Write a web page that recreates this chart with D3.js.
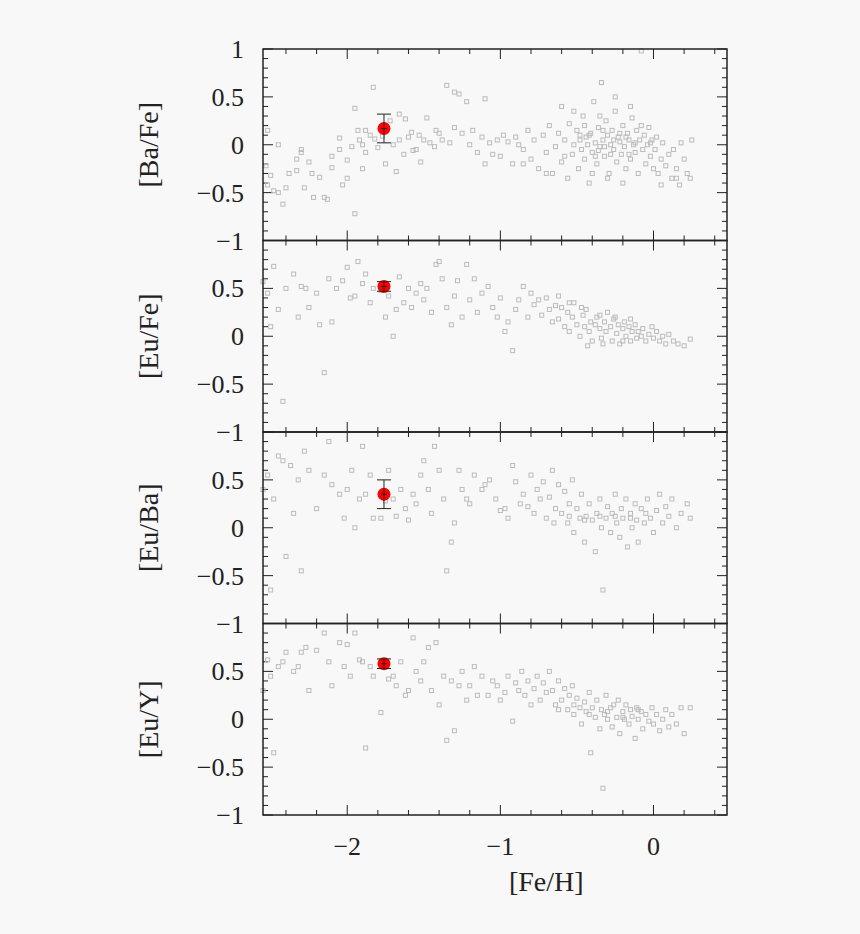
<!DOCTYPE html>
<html><head><meta charset="utf-8">
<script src="https://cdn.jsdelivr.net/npm/d3@7"></script>
<style>body{margin:0;background:#f8f8f8;} text{font-family:"Liberation Serif","DejaVu Serif",serif;fill:#222;}</style>
</head><body>
<svg id="c" width="860" height="934"></svg>
<script>
// panel labels and the highlighted star for each
var panelNames = ["[Ba/Fe]", "[Eu/Fe]", "[Eu/Ba]", "[Eu/Y]"];
var starFeH = -1.76;
var starVal = [0.17, 0.52, 0.35, 0.58];
var starErr = [0.15, 0.05, 0.15, 0.05];
var yTicks = [-1, -0.5, 0, 0.5, 1];
var xTicks = [-2, -1, 0];

var baFe = [[-2.52,0.15],[-2.53,-0.22],[-2.52,-0.42],[-2.5,-0.32],[-2.48,-0.48],[-2.45,-0.5],[-2.42,-0.62],[-2.4,-0.45],[-2.38,-0.3],[-2.33,-0.15],[-2.33,-0.27],[-2.3,-0.05],[-2.3,-0.08],[-2.28,-0.45],[-2.25,-0.18],[-2.23,-0.3],[-2.22,-0.55],[-2.18,-0.34],[-2.15,-0.55],[-2.13,-0.57],[-2.1,-0.12],[-2.1,-0.24],[-2.05,0.07],[-2.05,-0.05],[-2.03,-0.42],[-2.0,-0.16],[-2.0,-0.35],[-1.97,-0.02],[-1.95,0.38],[-1.93,0.15],[-1.92,0.05],[-1.9,0.0],[-1.9,-0.25],[-1.88,0.15],[-1.88,-0.08],[-1.85,0.1],[-1.83,0.6],[-1.82,0.06],[-1.8,-0.03],[-1.77,0.09],[-1.75,-0.2],[-1.72,0.25],[-1.7,0.0],[-1.68,-0.28],[-1.66,0.32],[-1.66,0.05],[-1.63,-0.1],[-1.62,0.27],[-1.6,0.08],[-1.58,0.13],[-1.57,-0.06],[-1.55,-0.05],[-1.53,0.1],[-1.52,-0.18],[-1.5,0.05],[-1.48,0.28],[-1.46,0.02],[-1.43,-0.02],[-1.42,0.15],[-1.4,0.12],[-1.38,0.05],[-1.35,0.62],[-1.33,0.02],[-1.3,0.55],[-1.3,0.18],[-1.27,0.53],[-1.25,0.12],[-1.22,0.45],[-1.2,0.0],[-1.18,0.15],[-1.15,-0.08],[-1.12,0.08],[-1.1,0.48],[-1.07,0.02],[-1.05,-0.1],[-1.02,0.05],[-1.0,-0.12],[-0.98,0.1],[-0.95,0.03],[-0.92,-0.2],[-0.9,0.08],[-0.88,0.0],[-0.85,-0.05],[-0.82,0.15],[-0.8,-0.15],[-0.78,0.05],[-0.75,-0.25],[-0.72,0.1],[-0.7,-0.08],[-0.68,0.2],[-0.66,-0.3],[-0.64,-0.02],[-0.62,0.12],[-0.6,-0.18],[-0.58,0.05],[-0.56,-0.35],[-0.55,0.22],[-0.53,-0.1],[-0.52,0.0],[-0.5,0.15],[-0.49,-0.25],[-0.48,0.05],[-0.47,-0.05],[-0.46,0.3],[-0.45,-0.15],[-0.44,0.08],[-0.43,0.0],[-0.42,-0.4],[-0.41,0.12],[-0.4,-0.08],[-0.39,0.45],[-0.38,0.02],[-0.37,-0.2],[-0.36,0.18],[-0.35,-0.02],[-0.34,0.65],[-0.33,0.05],[-0.32,-0.12],[-0.31,0.25],[-0.3,0.1],[-0.29,-0.3],[-0.28,0.0],[-0.27,0.15],[-0.26,-0.05],[-0.25,0.35],[-0.24,-0.18],[-0.23,0.08],[-0.22,0.03],[-0.21,-0.1],[-0.2,0.2],[-0.19,-0.02],[-0.18,-0.25],[-0.17,0.12],[-0.16,0.05],[-0.15,-0.15],[-0.14,0.28],[-0.13,0.0],[-0.12,-0.08],[-0.11,0.15],[-0.1,-0.3],[-0.09,0.05],[-0.08,0.98],[-0.07,-0.05],[-0.06,0.1],[-0.05,-0.2],[-0.04,0.0],[-0.03,0.18],[-0.02,-0.12],[-0.01,0.05],[0.0,-0.25],[0.01,-0.05],[0.02,0.08],[0.03,-0.3],[0.05,-0.15],[0.06,0.02],[0.08,-0.22],[0.1,-0.1],[0.12,-0.35],[0.13,-0.05],[0.15,-0.25],[0.17,-0.42],[0.18,0.02],[0.2,-0.15],[0.22,-0.3],[0.24,-0.35],[0.25,0.05],[-0.6,0.4],[-0.52,0.35],[-0.35,0.3],[-0.25,0.5],[-0.15,0.4],[-0.4,-0.3],[-0.3,-0.35],[-0.2,-0.4],[0.05,-0.42],[0.15,-0.35],[-0.7,-0.3],[-0.85,-0.2],[-1.1,-0.2],[-0.45,0.2],[-0.33,0.15],[-0.28,-0.1],[-0.18,0.08],[-0.08,0.2],[-0.58,-0.12],[-0.48,0.1],[-0.38,-0.12],[-1.95,-0.72],[-2.45,0.0],[-0.42,0.1],[-0.32,-0.02],[-0.22,0.12],[-0.12,0.02],[-0.02,0.02],[-0.36,-0.06],[-0.26,0.05],[-0.16,-0.1]];

var euFe = [[-2.55,0.57],[-2.52,0.45],[-2.5,0.1],[-2.48,0.73],[-2.45,0.28],[-2.42,-0.68],[-2.4,0.5],[-2.35,0.65],[-2.32,0.2],[-2.3,0.52],[-2.27,0.5],[-2.25,0.3],[-2.2,0.45],[-2.18,0.12],[-2.15,-0.38],[-2.12,0.6],[-2.1,0.15],[-2.07,0.5],[-2.03,0.58],[-2.0,0.72],[-1.98,0.4],[-1.95,0.42],[-1.93,0.78],[-1.9,0.55],[-1.88,0.65],[-1.85,0.35],[-1.83,0.5],[-1.78,0.48],[-1.75,0.2],[-1.73,0.42],[-1.7,0.0],[-1.68,0.28],[-1.66,0.62],[-1.63,0.35],[-1.6,0.5],[-1.58,0.3],[-1.55,0.45],[-1.52,0.55],[-1.5,0.38],[-1.48,0.5],[-1.45,0.25],[-1.42,0.75],[-1.4,0.78],[-1.38,0.6],[-1.35,0.3],[-1.32,0.12],[-1.3,0.42],[-1.28,0.58],[-1.25,0.2],[-1.22,0.75],[-1.2,0.38],[-1.17,0.6],[-1.15,0.25],[-1.12,0.45],[-1.08,0.52],[-1.05,0.3],[-1.02,0.2],[-1.0,0.4],[-0.97,0.05],[-0.95,0.15],[-0.92,-0.15],[-0.9,0.28],[-0.88,0.38],[-0.85,0.52],[-0.82,0.2],[-0.8,0.45],[-0.78,0.33],[-0.75,0.38],[-0.73,0.22],[-0.7,0.4],[-0.68,0.28],[-0.66,0.15],[-0.64,0.32],[-0.62,0.18],[-0.6,0.3],[-0.58,0.1],[-0.56,0.25],[-0.55,0.05],[-0.53,0.2],[-0.52,0.35],[-0.5,0.12],[-0.48,0.0],[-0.46,0.22],[-0.45,0.1],[-0.44,0.28],[-0.42,0.05],[-0.41,0.15],[-0.4,-0.05],[-0.38,0.12],[-0.37,0.2],[-0.35,0.08],[-0.34,-0.02],[-0.32,0.15],[-0.31,0.05],[-0.3,0.25],[-0.28,0.1],[-0.27,-0.05],[-0.26,0.18],[-0.24,0.03],[-0.23,0.12],[-0.22,-0.08],[-0.2,0.08],[-0.19,0.15],[-0.18,0.0],[-0.16,0.1],[-0.15,-0.05],[-0.14,0.05],[-0.12,0.12],[-0.11,-0.02],[-0.1,0.05],[-0.08,0.0],[-0.07,0.08],[-0.05,-0.05],[-0.03,0.02],[-0.01,0.1],[0.0,-0.02],[0.02,0.05],[0.04,-0.05],[0.06,0.0],[0.08,-0.08],[0.1,0.02],[0.13,-0.05],[0.16,-0.08],[0.2,-0.1],[0.24,-0.03],[-0.62,0.42],[-0.55,0.35],[-0.47,0.3],[-0.35,0.22],[-0.25,0.2],[-0.15,0.18],[-0.43,-0.1],[-0.33,-0.08],[-0.2,-0.05]];

var euBa = [[-2.55,0.4],[-2.52,0.55],[-2.5,-0.65],[-2.48,0.3],[-2.45,0.75],[-2.42,0.7],[-2.4,-0.3],[-2.37,0.65],[-2.35,0.15],[-2.32,0.5],[-2.3,-0.45],[-2.28,0.8],[-2.25,0.6],[-2.2,0.2],[-2.15,0.55],[-2.12,0.9],[-2.1,0.45],[-2.05,0.35],[-2.02,0.1],[-2.0,0.4],[-1.97,0.6],[-1.95,0.0],[-1.92,0.3],[-1.9,0.85],[-1.88,0.35],[-1.85,0.55],[-1.83,0.1],[-1.78,0.1],[-1.75,0.28],[-1.73,0.6],[-1.7,0.3],[-1.68,0.12],[-1.65,0.4],[-1.62,0.2],[-1.6,0.08],[-1.57,0.35],[-1.55,0.25],[-1.52,0.55],[-1.5,0.7],[-1.47,0.4],[-1.45,0.15],[-1.43,0.85],[-1.4,0.6],[-1.37,0.3],[-1.35,-0.45],[-1.32,-0.15],[-1.3,0.05],[-1.27,0.6],[-1.25,0.4],[-1.22,0.3],[-1.2,0.25],[-1.17,0.55],[-1.12,0.4],[-1.1,0.45],[-1.07,0.5],[-1.03,0.3],[-1.0,0.18],[-0.97,0.2],[-0.95,0.1],[-0.92,0.65],[-0.9,0.48],[-0.87,0.25],[-0.85,0.35],[-0.82,0.22],[-0.8,0.55],[-0.78,0.15],[-0.76,0.4],[-0.74,0.3],[-0.72,0.48],[-0.7,0.1],[-0.68,0.32],[-0.66,0.6],[-0.64,0.2],[-0.62,0.45],[-0.6,0.15],[-0.58,0.38],[-0.56,0.05],[-0.55,0.25],[-0.53,0.5],[-0.52,-0.05],[-0.5,0.2],[-0.48,0.1],[-0.47,0.35],[-0.45,-0.15],[-0.44,0.12],[-0.42,0.25],[-0.4,0.08],[-0.38,-0.25],[-0.37,0.15],[-0.35,0.3],[-0.34,0.0],[-0.33,-0.65],[-0.31,0.1],[-0.3,0.22],[-0.28,-0.05],[-0.27,0.15],[-0.25,0.35],[-0.24,0.05],[-0.22,-0.1],[-0.21,0.2],[-0.2,0.1],[-0.18,0.3],[-0.17,-0.2],[-0.15,0.15],[-0.14,0.0],[-0.12,0.25],[-0.11,0.08],[-0.1,-0.15],[-0.08,0.2],[-0.06,0.05],[-0.04,0.3],[-0.02,0.1],[0.0,-0.05],[0.02,0.18],[0.04,0.35],[0.06,0.05],[0.08,0.22],[0.1,0.12],[0.12,0.3],[0.15,0.0],[0.18,0.15],[0.22,0.25],[0.24,0.1],[-0.65,0.05],[-0.55,0.12],[-0.45,0.08],[-0.35,0.12],[-0.25,0.12],[-0.15,0.1],[-0.05,0.15]];

var euY = [[-2.55,0.3],[-2.52,0.62],[-2.5,0.45],[-2.48,-0.35],[-2.45,0.55],[-2.42,0.6],[-2.4,0.7],[-2.35,0.5],[-2.32,0.55],[-2.3,0.7],[-2.27,0.75],[-2.25,0.3],[-2.2,0.72],[-2.15,0.9],[-2.12,0.6],[-2.1,0.35],[-2.05,0.8],[-2.02,0.55],[-2.0,0.78],[-1.98,0.45],[-1.95,0.9],[-1.92,0.62],[-1.9,0.6],[-1.88,-0.3],[-1.85,0.55],[-1.83,0.45],[-1.78,0.07],[-1.75,0.55],[-1.73,0.42],[-1.7,0.45],[-1.68,0.35],[-1.65,0.6],[-1.62,0.25],[-1.6,0.3],[-1.57,0.85],[-1.55,0.5],[-1.52,0.4],[-1.5,0.6],[-1.47,0.75],[-1.45,0.3],[-1.42,0.8],[-1.4,0.15],[-1.37,0.45],[-1.35,-0.22],[-1.32,0.4],[-1.3,-0.12],[-1.27,0.35],[-1.25,0.5],[-1.22,0.2],[-1.2,0.35],[-1.17,0.55],[-1.15,0.25],[-1.12,0.45],[-1.08,0.25],[-1.05,0.4],[-1.02,0.35],[-1.0,0.2],[-0.97,0.28],[-0.95,0.45],[-0.92,-0.02],[-0.9,0.38],[-0.88,0.3],[-0.86,0.5],[-0.84,0.25],[-0.82,0.4],[-0.8,0.15],[-0.78,0.32],[-0.76,0.45],[-0.74,0.2],[-0.72,0.38],[-0.7,0.28],[-0.68,0.5],[-0.66,0.3],[-0.64,0.15],[-0.62,0.4],[-0.6,0.2],[-0.58,0.32],[-0.56,0.1],[-0.55,0.25],[-0.53,0.35],[-0.52,0.05],[-0.5,0.22],[-0.48,0.12],[-0.47,-0.05],[-0.45,0.18],[-0.44,0.08],[-0.42,0.28],[-0.41,-0.35],[-0.4,0.12],[-0.38,0.02],[-0.37,0.2],[-0.35,-0.1],[-0.34,0.1],[-0.33,-0.72],[-0.32,0.05],[-0.31,0.25],[-0.3,0.0],[-0.28,0.12],[-0.27,-0.08],[-0.26,0.15],[-0.24,0.02],[-0.23,0.2],[-0.22,-0.15],[-0.2,0.08],[-0.19,0.0],[-0.18,0.15],[-0.16,-0.05],[-0.15,0.1],[-0.14,0.03],[-0.12,-0.2],[-0.11,0.12],[-0.1,0.0],[-0.08,0.08],[-0.07,-0.1],[-0.05,0.05],[-0.03,-0.02],[-0.01,0.12],[0.0,-0.05],[0.02,0.05],[0.04,-0.12],[0.06,0.0],[0.08,0.1],[0.1,-0.08],[0.12,0.05],[0.15,-0.05],[0.18,0.12],[0.2,-0.15],[0.24,0.12],[-0.62,0.1],[-0.52,0.15],[-0.42,0.05],[-0.3,0.08],[-0.2,0.02],[-0.1,0.1]];

var panelData = [baFe, euFe, euBa, euY];

var left = 263, right = 727, top0 = 49, panelH = 191.5;
var svg = d3.select("#c");
var x = d3.scaleLinear().domain([-2.55, 0.48]).range([left, right]);
var ink = "#222";

panelData.forEach(function(data, p) {
  var t = top0 + p * panelH, b = t + panelH;
  var y = d3.scaleLinear().domain([-1, 1]).range([b, t]);
  var g = svg.append("g");

  // ticks: x every 0.2, y every 0.1
  d3.range(-12, 3).map(function(k){return k * 0.2;}).forEach(function(v){
    var major = Math.abs(v - Math.round(v)) < 1e-6;
    var L = major ? 10 : 5;
    g.append("line").attr("x1", x(v)).attr("x2", x(v)).attr("y1", b).attr("y2", b - L).attr("stroke", ink);
    g.append("line").attr("x1", x(v)).attr("x2", x(v)).attr("y1", t).attr("y2", t + L).attr("stroke", ink);
  });
  d3.range(-10, 11).forEach(function(k){
    var v = k / 10, major = k % 5 === 0, L = major ? 10 : 5;
    g.append("line").attr("x1", left).attr("x2", left + L).attr("y1", y(v)).attr("y2", y(v)).attr("stroke", ink);
    g.append("line").attr("x1", right).attr("x2", right - L).attr("y1", y(v)).attr("y2", y(v)).attr("stroke", ink);
  });

  yTicks.forEach(function(v){
    if (v === 1 && p > 0) return;
    g.append("text").attr("x", 244).attr("y", y(v) + 9).attr("text-anchor", "end")
      .attr("font-size", 26).text(v < 0 ? "\u2212" + Math.abs(v) : String(v));
  });

  g.selectAll("rect.pt").data(data).enter().append("rect")
    .attr("x", function(d){return x(d[0]) - 2;}).attr("y", function(d){return y(d[1]) - 2;})
    .attr("width", 4).attr("height", 4).attr("fill", "none").attr("stroke", "#bbb").attr("stroke-width", 1);

  // star with error bar
  var sx = x(starFeH), sy = y(starVal[p]);
  g.append("circle").attr("cx", sx).attr("cy", sy).attr("r", 6.5).attr("fill", "#f00");
  [starVal[p] - starErr[p], starVal[p] + starErr[p]].forEach(function(v){
    g.append("line").attr("x1", sx - 7).attr("x2", sx + 7).attr("y1", y(v)).attr("y2", y(v)).attr("stroke", ink);
  });
  g.append("line").attr("x1", sx).attr("x2", sx).attr("y1", y(starVal[p] - starErr[p])).attr("y2", y(starVal[p] + starErr[p])).attr("stroke", ink);
  g.append("line").attr("x1", sx - 3).attr("x2", sx + 3).attr("y1", sy).attr("y2", sy).attr("stroke", ink);

  g.append("rect").attr("x", left).attr("y", t).attr("width", right - left).attr("height", panelH)
    .attr("fill", "none").attr("stroke", ink).attr("stroke-width", 1.5);

  g.append("text").attr("transform", "translate(158," + (t + panelH / 2) + ") rotate(-90)")
    .attr("text-anchor", "middle").attr("font-size", 28).text(panelNames[p]);
});

var bottom = top0 + 4 * panelH;
xTicks.forEach(function(v){
  svg.append("text").attr("x", x(v)).attr("y", bottom + 40).attr("text-anchor", "middle")
    .attr("font-size", 26).text(v < 0 ? "\u2212" + Math.abs(v) : String(v));
});
svg.append("text").attr("x", x(-0.7)).attr("y", bottom + 76).attr("text-anchor", "middle")
  .attr("font-size", 28).text("[Fe/H]");
</script>
</body></html>
